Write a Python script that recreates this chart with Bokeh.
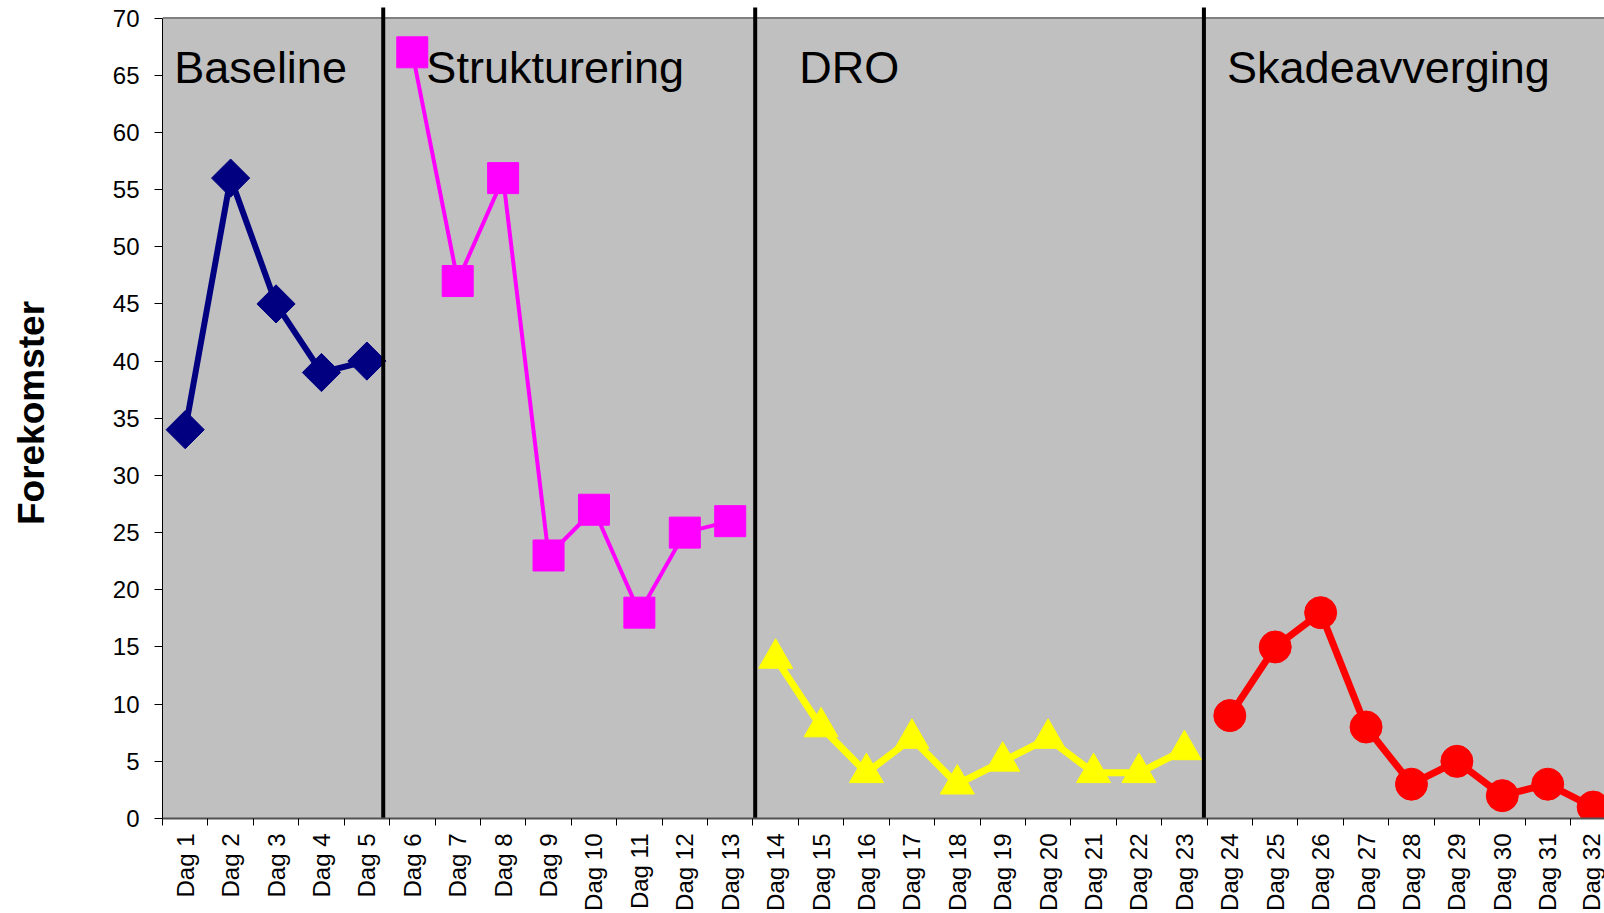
import math
from bokeh.plotting import figure
from bokeh.models import Range1d, FixedTicker, Span, BoxAnnotation
from bokeh.core.properties import value
from bokeh.embed import file_html
from bokeh.resources import INLINE

# ---------------- data ----------------
days = [f"Dag {i}" for i in range(1, 33)]

baseline_days = [1, 2, 3, 4, 5]
baseline_vals = [34, 56, 45, 39, 40]

struct_days = [6, 7, 8, 9, 10, 11, 12, 13]
struct_vals = [67, 47, 56, 23, 27, 18, 25, 26]

dro_days = [14, 15, 16, 17, 18, 19, 20, 21, 22, 23]
dro_vals = [14, 8, 4, 7, 3, 5, 7, 4, 4, 6]

skade_days = [24, 25, 26, 27, 28, 29, 30, 31, 32]
skade_vals = [9, 15, 18, 8, 3, 5, 2, 3, 1]

phase_names = ["Baseline", "Strukturering", "DRO", "Skadeavverging"]
phase_label_x = [0.76, 6.31, 14.52, 23.94]
phase_boundaries = [5.36, 13.55, 23.43]

y_ticks = list(range(0, 75, 5))
y_title = "Forekomster"

FONT = "Liberation Sans"

p = figure(width=1604, height=913, output_backend="svg", toolbar_location=None,
           x_range=Range1d(0.5, 32.25), y_range=Range1d(0, 70.92),
           min_border_left=162, min_border_right=0, min_border_top=7,
           min_border_bottom=10)
p.background_fill_color = "white"
p.border_fill_color = "white"
p.outline_line_color = None
p.grid.visible = False

# gray plot area (0..70)
p.add_layout(BoxAnnotation(bottom=0, top=70, fill_color="#C0C0C0", fill_alpha=1.0,
                           line_color=None, level="underlay"))
p.add_layout(Span(location=70, dimension="width", line_color="#808080", line_width=2,
                  level="underlay"))

# x axis
xa = p.xaxis[0]
xa.ticker = FixedTicker(ticks=list(range(1, 33)),
                        minor_ticks=[i + 0.5 for i in range(0, 33)])
xa.major_label_overrides = {i + 1: d for i, d in enumerate(days)}
xa.major_label_orientation = math.pi / 2
xa.major_tick_out = 0
xa.major_tick_in = 0
xa.major_tick_line_color = None
xa.minor_tick_out = 7
xa.minor_tick_in = 0
xa.minor_tick_line_color = "black"
xa.minor_tick_line_width = 1
xa.axis_line_color = "#505050"
xa.axis_line_width = 2
xa.major_label_standoff = 8
xa.major_label_text_font = FONT
xa.major_label_text_font_size = "24px"
xa.major_label_text_color = "black"

# y axis
ya = p.yaxis[0]
ya.bounds = (0, 70)
ya.ticker = FixedTicker(ticks=y_ticks)
ya.major_tick_out = 8
ya.major_tick_in = 0
ya.minor_tick_line_color = None
ya.major_tick_line_color = "black"
ya.axis_line_color = "black"
ya.axis_line_width = 1
ya.major_label_standoff = 15
ya.major_label_text_font = FONT
ya.major_label_text_font_size = "24px"
ya.major_label_text_color = "black"
ya.axis_label = y_title
ya.axis_label_text_font = FONT
ya.axis_label_text_font_size = "37px"
ya.axis_label_text_font_style = "bold"
ya.axis_label_text_color = "black"
ya.axis_label_standoff = 58

# series
p.line(baseline_days, baseline_vals, line_color="#000080", line_width=6)
p.scatter(baseline_days, baseline_vals, marker="square", angle=math.pi / 4,
          size=27, fill_color="#000080", line_color="#000080")

p.line(struct_days, struct_vals, line_color="#FF00FF", line_width=4)
p.scatter(struct_days, struct_vals, marker="square", size=31,
          fill_color="#FF00FF", line_color="#FF00FF")

p.line(dro_days, dro_vals, line_color="#FFFF00", line_width=7)
p.scatter(dro_days, dro_vals, marker="triangle", size=34,
          fill_color="#FFFF00", line_color="#FFFF00")

p.line(skade_days, skade_vals, line_color="#FF0000", line_width=7)
p.scatter(skade_days, skade_vals, marker="circle", size=32,
          fill_color="#FF0000", line_color="#FF0000")

# phase separators
p.segment(x0=phase_boundaries, x1=phase_boundaries,
          y0=[0] * len(phase_boundaries), y1=[71] * len(phase_boundaries),
          line_color="black", line_width=4)

# phase labels
p.text(x=phase_label_x, y=[65.7] * len(phase_names), text=phase_names,
       text_font=value(FONT), text_font_size="45px", text_color="black",
       text_align="left", text_baseline="alphabetic")

open("out.html", "w").write(file_html(p, INLINE))
